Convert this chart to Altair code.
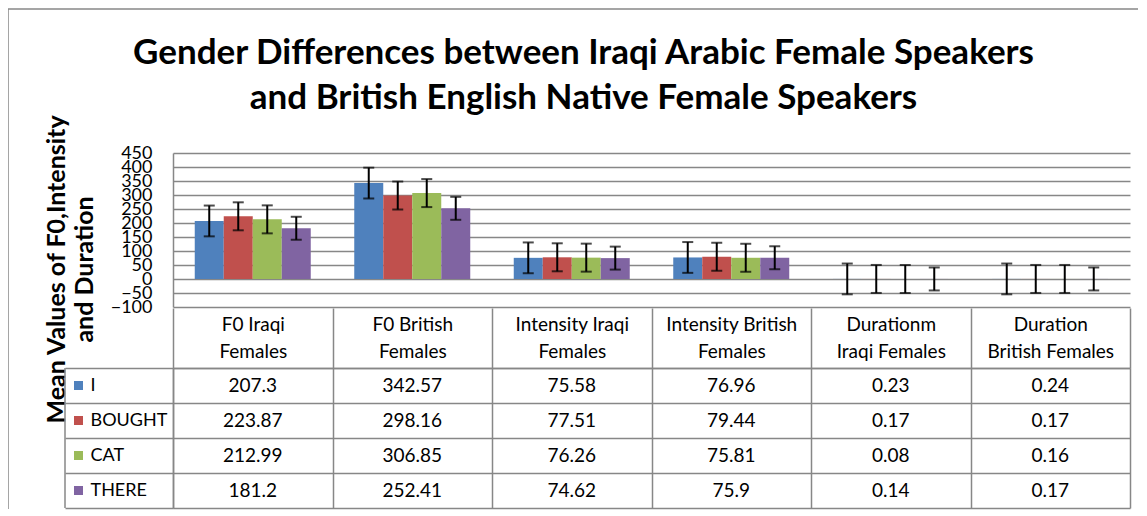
import altair as alt
import pandas as pd

# ---------------- data ----------------
categories = [
    "F0 Iraqi|Females",
    "F0 British|Females",
    "Intensity Iraqi|Females",
    "Intensity British|Females",
    "Durationm|Iraqi Females",
    "Duration|British Females",
]
series = ["I", "BOUGHT", "CAT", "THERE"]
vals_I = [207.3, 342.57, 75.58, 76.96, 0.23, 0.24]
vals_BOUGHT = [223.87, 298.16, 77.51, 79.44, 0.17, 0.17]
vals_CAT = [212.99, 306.85, 76.26, 75.81, 0.08, 0.16]
vals_THERE = [181.2, 252.41, 74.62, 75.9, 0.14, 0.17]
# error bar half-lengths (one per series)
err_amount = [55, 50, 50, 41]
colors = ["#4F81BD", "#C0504D", "#9BBB59", "#8064A2"]
y_ticks = [-100, -50, 0, 50, 100, 150, 200, 250, 300, 350, 400, 450]
title_lines = [
    "Gender Differences between Iraqi Arabic Female Speakers",
    "and British English Native Female Speakers",
]
y_title = ["Mean Values of F0,Intensity", "and Duration"]

series_vals = [vals_I, vals_BOUGHT, vals_CAT, vals_THERE]
rows = []
for s, vals, e in zip(series, series_vals, err_amount):
    for c, v in zip(categories, vals):
        rows.append({"category": c, "series": s, "value": v,
                     "label": str(v), "lo": v - e, "hi": v + e})
df = pd.DataFrame(rows)

FONT = "Lato"
GRID = "#878787"
LW = 1.5

W = 957
H_TOP = 154
H_BODY = 140

color = alt.Color("series:N", sort=series,
                  scale=alt.Scale(domain=series, range=colors), legend=None)

# ---------------- top: bar chart ----------------
x_top = alt.X("category:N", sort=categories,
              scale=alt.Scale(paddingInner=0, paddingOuter=0), axis=None)
xoff = alt.XOffset("series:N", sort=series,
                   scale=alt.Scale(paddingInner=0, paddingOuter=0.75))
y_scale = alt.Scale(domain=[-100, 450], nice=False, zero=False)
y_axis = alt.Axis(values=y_ticks, grid=True, gridColor=GRID, gridWidth=LW,
                  domain=True, domainColor=GRID, domainWidth=LW,
                  ticks=False, labelPadding=21, labelFontSize=18,
                  labelFont=FONT, labelColor="#000000",
                  labelOverlap=False, labelFlush=False, labelBound=False,
                  title=y_title, titleFont=FONT, titleFontSize=25,
                  titleFontWeight="bold", titleColor="#000000",
                  titleLineHeight=28, titleAngle=270,
                  titleAlign="center", titleBaseline="bottom",
                  titleX=-104, titleY=116)

base = alt.Chart(df)

bars = base.mark_bar().encode(
    x=x_top, xOffset=xoff,
    y=alt.Y("value:Q", scale=y_scale, axis=y_axis),
    y2=alt.Y2(datum=0),
    color=color,
)

err_rule = base.mark_rule(color="black", strokeWidth=2).encode(
    x=x_top, xOffset=xoff,
    y=alt.Y("lo:Q", scale=y_scale, axis=y_axis), y2="hi:Q",
)
cap_lo = base.mark_tick(color="black", thickness=2, size=11, orient="horizontal").encode(
    x=x_top, xOffset=xoff, y=alt.Y("lo:Q", scale=y_scale, axis=y_axis))
cap_hi = base.mark_tick(color="black", thickness=2, size=11, orient="horizontal").encode(
    x=x_top, xOffset=xoff, y=alt.Y("hi:Q", scale=y_scale, axis=y_axis))

one = alt.Chart(pd.DataFrame({"t": ["\n".join(title_lines)]}))
title_mark = one.mark_text(font=FONT, fontSize=35, fontWeight="bold", color="black",
                           lineBreak="\n", lineHeight=45, align="center",
                           baseline="middle").encode(
    text="t:N", x=alt.value(410.5), y=alt.value(-100))

frame_v = one.mark_rule(color=GRID, strokeWidth=LW).encode(
    x=alt.value(-165), y=alt.value(-144), y2=alt.value(356))
frame_h = one.mark_rule(color=GRID, strokeWidth=LW).encode(
    x=alt.value(-165), x2=alt.value(965), y=alt.value(-144))

top = alt.layer(bars, err_rule, cap_lo, cap_hi, title_mark, frame_v, frame_h).properties(
    width=W, height=H_TOP)

# ---------------- bottom: data table ----------------
x_tab = alt.X("category:N", sort=categories,
              scale=alt.Scale(paddingInner=0, paddingOuter=0),
              axis=alt.Axis(orient="top", title=None, labelAngle=0,
                            labelExpr="split(datum.label, '|')",
                            labelFont=FONT, labelFontSize=19, labelColor="#000000",
                            labelLineHeight=27, labelBaseline="middle",
                            labelPadding=-16,
                            tickBand="extent", ticks=True, tickSize=60,
                            tickColor=GRID, tickWidth=LW,
                            domain=True, domainColor=GRID, domainWidth=LW,
                            grid=True, gridColor=GRID, gridWidth=LW))
y_tab = alt.Y("series:N", sort=series,
              scale=alt.Scale(paddingInner=0, paddingOuter=0),
              axis=alt.Axis(title=None, labelAlign="left", labelPadding=-25,
                            labelFont=FONT, labelFontSize=18, labelColor="#000000",
                            tickBand="extent", ticks=True, tickSize=108,
                            tickColor=GRID, tickWidth=LW,
                            domain=True, domainColor=GRID, domainWidth=LW,
                            grid=True, gridColor=GRID, gridWidth=LW))

cells = base.mark_text(font=FONT, fontSize=19, color="black").encode(
    x=x_tab, y=y_tab, text="label:N")
squares = base.mark_point(shape="square", filled=True, size=81, opacity=1).encode(
    x=alt.value(-94.5), y=y_tab, color=color)
left_line = one.mark_rule(color=GRID, strokeWidth=LW).encode(
    x=alt.value(-108), y=alt.value(0), y2=alt.value(H_BODY))

body = alt.layer(cells, squares, left_line).properties(width=W, height=H_BODY)

chart = alt.vconcat(top, body, spacing=61, bounds="flush").properties(
    padding={"left": -1, "top": 0, "right": 0, "bottom": 0}
).configure_view(stroke=None)

chart.save("out.html", embed_options={"renderer": "svg", "actions": False})
